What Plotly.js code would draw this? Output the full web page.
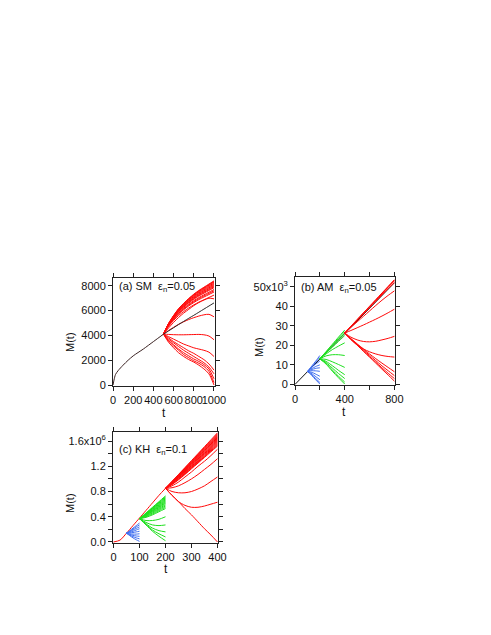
<!DOCTYPE html>
<html>
<head>
<meta charset="utf-8">
<script src="https://cdn.plot.ly/plotly-3.0.1.min.js"></script>
<style>
  html, body { margin: 0; padding: 0; background: #fff; }
  #chart { width: 491px; height: 635px; }
</style>
</head>
<body>
<div id="chart"></div>
<script>
// (a) SM, eps_n = 0.05
var smTrunkT = [0, 10, 25, 50, 100, 150, 200, 300, 400, 500];
var smTrunkM = [0, 400, 850, 1150, 1600, 2000, 2350, 2900, 3500, 4100];
var smBranchT = [500, 550, 600, 650, 700, 750, 800, 850, 900, 950, 1000];
var smRed = [
    [4100, 4960, 5605, 6164, 6594, 6981, 7325, 7626, 7884, 8142, 8400],
    [4100, 4950, 5588, 6140, 6565, 6948, 7288, 7585, 7840, 8095, 8350],
    [4100, 4940, 5570, 6116, 6536, 6914, 7250, 7544, 7796, 8048, 8300],
    [4100, 4925, 5544, 6080, 6493, 6864, 7194, 7483, 7730, 7978, 8225],
    [4100, 4910, 5518, 6044, 6449, 6814, 7138, 7421, 7664, 7907, 8150],
    [4100, 4895, 5491, 6008, 6406, 6763, 7081, 7360, 7598, 7837, 8075],
    [4100, 4880, 5465, 5972, 6362, 6713, 7025, 7298, 7532, 7766, 8000],
    [4100, 4865, 5439, 5936, 6319, 6663, 6969, 7237, 7466, 7696, 7925],
    [4100, 4850, 5413, 5900, 6275, 6613, 6913, 7175, 7400, 7625, 7850],
    [4100, 4820, 5360, 5828, 6188, 6512, 6800, 7052, 7268, 7484, 7700],
    [4100, 4800, 5325, 5780, 6130, 6445, 6725, 6970, 7180, 7390, 7600],
    [4100, 4780, 5290, 5732, 6072, 6378, 6650, 6888, 7092, 7296, 7500],
    [4100, 4730, 5203, 5612, 5927, 6211, 6463, 6683, 6872, 7061, 7250],
    [4100, 4600, 5050, 5450, 5800, 6100, 6400, 6650, 6850, 7000, 6950],
    [4100, 4400, 4650, 4900, 5100, 5280, 5430, 5560, 5660, 5700, 5500],
    [4100, 4080, 4060, 4050, 4050, 4060, 4070, 4080, 4050, 3950, 3650],
    [4100, 3900, 3700, 3500, 3300, 3150, 3000, 2900, 2800, 2650, 2300],
    [4100, 3800, 3500, 3250, 3000, 2750, 2550, 2300, 2050, 1700, 1200],
    [4100, 3700, 3400, 3100, 2800, 2550, 2300, 2050, 1800, 1450, 900],
    [4100, 3600, 3250, 2900, 2600, 2350, 2100, 1900, 1650, 1300, 500],
    [4100, 3550, 3150, 2800, 2450, 2200, 1950, 1750, 1500, 1100, 200],
    [4100, 3450, 3000, 2600, 2300, 2050, 1850, 1600, 1300, 900, 0]
];
var smBlack = [4100, 4360, 4620, 4880, 5130, 5380, 5620, 5870, 6120, 6370, 6620];

// (b) AM, eps_n = 0.05  (M in units of 10^3)
var amTrunkT = [0, 800];
var amTrunkM = [0, 52];
var amBlueT = [100, 125, 150, 175, 200];
var amBlue = [
    [6.6, 8.6, 10.6, 12.6, 14.8],
    [6.6, 8.4, 10.2, 12, 13.8],
    [6.6, 8.2, 9.6, 10.8, 12],
    [6.6, 7.8, 8.6, 9.4, 10],
    [6.6, 7.4, 7.9, 8.3, 8.5],
    [6.6, 7, 7, 6.9, 6.7],
    [6.6, 6.4, 5.8, 5, 4.2],
    [6.6, 6, 4.8, 3.6, 2.4],
    [6.6, 5.6, 4.0, 2.5, 1.0],
    [6.6, 5.3, 3.5, 1.8, 0.2]
];
var amGreenT = [200, 250, 300, 350, 400];
var amGreen = [
    [13.1, 16.8, 20.5, 24.2, 27.8],
    [13.1, 16.6, 20.1, 23.6, 27],
    [13.1, 16.4, 19.6, 22.9, 26.2],
    [13.1, 16.1, 19, 22, 25],
    [13.1, 15.6, 17.8, 19.6, 21.3],
    [13.1, 14.6, 15.2, 15.2, 14.8],
    [13.1, 12.8, 11.6, 10.2, 8.7],
    [13.1, 11.8, 9.6, 7.2, 5],
    [13.1, 11.2, 8.4, 5.6, 3],
    [13.1, 10.8, 7.4, 4.2, 1.2],
    [13.1, 10.4, 6.8, 3.4, 0.2]
];
var amRedT = [400, 450, 500, 550, 600, 650, 700, 750, 800];
var amRed = [
    [26.3, 29.8, 33.2, 36.6, 40, 43.4, 46.8, 50.2, 53.6],
    [26.3, 29.7, 33.1, 36.5, 39.8, 43.2, 46.6, 50, 53.3],
    [26.3, 29.6, 33, 36.3, 39.6, 43, 46.3, 49.7, 53],
    [26.3, 29.5, 32.8, 36, 39.3, 42.5, 45.8, 49, 52.2],
    [26.3, 29.2, 32, 34.8, 37.6, 40.4, 43.1, 45.6, 47.9],
    [26.3, 27.6, 29, 30.4, 31.9, 33.4, 35, 36.7, 38.5],
    [26.3, 24.2, 22.8, 22, 21.8, 22.1, 22.8, 23.6, 24.6],
    [26.3, 22.9, 20.2, 18.2, 16.7, 15.6, 14.8, 14.3, 14],
    [26.3, 23.5, 20.8, 18.2, 15.6, 13.2, 10.9, 8.7, 6.5],
    [26.3, 23.3, 20.5, 17.7, 14.9, 12.2, 9.5, 7, 4.5],
    [26.3, 23.2, 20.2, 17.2, 14.2, 11.4, 8.5, 5.7, 3],
    [26.3, 23.2, 20.1, 17, 14, 10.9, 7.8, 4.8, 1.7]
];

// (c) KH, eps_n = 0.1  (M in units of 10^6)
var khTrunkT = [0, 25, 50, 75, 100, 125, 150, 175, 200];
var khTrunkM = [0, 0.03, 0.14, 0.26, 0.38, 0.5, 0.62, 0.74, 0.85];
var khBlueT = [50, 62.5, 75, 87.5, 100];
var khBlue = [
    [0.14, 0.18, 0.22, 0.26, 0.30],
    [0.14, 0.17, 0.205, 0.24, 0.27],
    [0.14, 0.165, 0.19, 0.215, 0.24],
    [0.14, 0.155, 0.17, 0.19, 0.21],
    [0.14, 0.145, 0.15, 0.16, 0.17],
    [0.14, 0.13, 0.125, 0.125, 0.13],
    [0.14, 0.12, 0.105, 0.095, 0.09],
    [0.14, 0.11, 0.085, 0.065, 0.05],
    [0.14, 0.10, 0.065, 0.035, 0.01]
];
var khGreenT = [100, 125, 150, 175, 200];
var khGreen = [
    [0.37, 0.46, 0.55, 0.64, 0.73],
    [0.37, 0.455, 0.543, 0.63, 0.715],
    [0.37, 0.45, 0.535, 0.62, 0.70],
    [0.37, 0.445, 0.528, 0.608, 0.685],
    [0.37, 0.44, 0.52, 0.595, 0.67],
    [0.37, 0.438, 0.51, 0.583, 0.655],
    [0.37, 0.435, 0.50, 0.57, 0.64],
    [0.37, 0.43, 0.493, 0.558, 0.625],
    [0.37, 0.425, 0.485, 0.545, 0.61],
    [0.37, 0.418, 0.473, 0.53, 0.59],
    [0.37, 0.41, 0.46, 0.515, 0.57],
    [0.37, 0.40, 0.445, 0.498, 0.55],
    [0.37, 0.39, 0.43, 0.48, 0.53],
    [0.37, 0.34, 0.34, 0.36, 0.40],
    [0.37, 0.31, 0.27, 0.26, 0.27],
    [0.37, 0.29, 0.22, 0.18, 0.16],
    [0.37, 0.28, 0.19, 0.13, 0.08],
    [0.37, 0.27, 0.17, 0.09, 0.02]
];
var khRedT = [200, 225, 250, 275, 300, 325, 350, 375, 400];
var khRed = [
    [0.85, 0.96, 1.07, 1.18, 1.29, 1.40, 1.51, 1.62, 1.73],
    [0.85, 0.958, 1.065, 1.173, 1.28, 1.39, 1.498, 1.605, 1.715],
    [0.85, 0.955, 1.06, 1.165, 1.27, 1.38, 1.485, 1.59, 1.70],
    [0.85, 0.953, 1.055, 1.158, 1.263, 1.37, 1.473, 1.578, 1.685],
    [0.85, 0.95, 1.05, 1.15, 1.255, 1.36, 1.46, 1.565, 1.67],
    [0.85, 0.948, 1.045, 1.145, 1.248, 1.35, 1.45, 1.553, 1.655],
    [0.85, 0.945, 1.04, 1.14, 1.24, 1.34, 1.44, 1.54, 1.64],
    [0.85, 0.943, 1.035, 1.133, 1.23, 1.328, 1.428, 1.525, 1.625],
    [0.85, 0.94, 1.03, 1.125, 1.22, 1.315, 1.415, 1.51, 1.61],
    [0.85, 0.935, 1.025, 1.118, 1.21, 1.303, 1.403, 1.498, 1.595],
    [0.85, 0.93, 1.02, 1.11, 1.2, 1.29, 1.39, 1.485, 1.58],
    [0.85, 0.925, 1.01, 1.10, 1.19, 1.28, 1.375, 1.47, 1.565],
    [0.85, 0.92, 1.0, 1.09, 1.18, 1.27, 1.36, 1.455, 1.55],
    [0.85, 0.915, 0.993, 1.08, 1.17, 1.26, 1.35, 1.443, 1.535],
    [0.85, 0.91, 0.985, 1.07, 1.16, 1.25, 1.34, 1.43, 1.52],
    [0.85, 0.89, 0.95, 1.03, 1.11, 1.2, 1.28, 1.37, 1.47],
    [0.85, 0.86, 0.89, 0.94, 1.0, 1.07, 1.15, 1.23, 1.32],
    [0.85, 0.80, 0.78, 0.78, 0.8, 0.84, 0.89, 0.96, 1.03],
    [0.85, 0.74, 0.64, 0.58, 0.55, 0.55, 0.57, 0.6, 0.63],
    [0.85, 0.74, 0.64, 0.53, 0.43, 0.32, 0.21, 0.11, 0]
];

var RED = '#ff0a0a', GREEN = '#1ee01e', BLUE = '#3f6ef0', DARK = '#2b2b2b';

var data = [];
function addLines(ts, rows, color, xa, ya) {
    rows.forEach(function (ys) {
        data.push({
            x: ts, y: ys, xaxis: xa, yaxis: ya,
            mode: 'lines', type: 'scatter',
            line: {color: color, width: 1, shape: 'spline', smoothing: 0.8},
            hoverinfo: 'skip'
        });
    });
}

// (a)
addLines(smBranchT, smRed, RED, 'x', 'y');
addLines(smBranchT, [smBlack], DARK, 'x', 'y');
addLines(smTrunkT, [smTrunkM], '#3a2222', 'x', 'y');
// (b)
addLines(amTrunkT, [amTrunkM], '#111111', 'x2', 'y2');
addLines(amBlueT, amBlue, BLUE, 'x2', 'y2');
addLines(amGreenT, amGreen, GREEN, 'x2', 'y2');
addLines(amRedT, amRed, RED, 'x2', 'y2');
// (c)
addLines(khTrunkT, [khTrunkM], RED, 'x3', 'y3');
addLines(khBlueT, khBlue, BLUE, 'x3', 'y3');
addLines(khGreenT, khGreen, GREEN, 'x3', 'y3');
addLines(khRedT, khRed, RED, 'x3', 'y3');

var W = 491, H = 635;
function px(v) { return v / W; }
function py(v) { return 1 - v / H; }

var axisBase = {
    showline: true, linecolor: '#222', linewidth: 1,
    mirror: 'allticks', ticks: 'outside', ticklen: 4, tickcolor: '#222',
    showgrid: false, zeroline: false, tickangle: 0,
    tickfont: {size: 11, color: '#111'}
};
function ax(extra) { return Object.assign({}, axisBase, extra); }

var layout = {
    width: W, height: H,
    margin: {l: 0, r: 0, t: 0, b: 0},
    paper_bgcolor: '#fff', plot_bgcolor: '#fff',
    font: {family: 'Liberation Sans, Arial, sans-serif', color: '#111'},
    showlegend: false,
    xaxis: ax({domain: [px(113), px(215)], range: [0, 1010], anchor: 'y',
        tickmode: 'linear', tick0: 0, dtick: 200}),
    yaxis: ax({domain: [py(386), py(278)], range: [-80, 8630], anchor: 'x',
        tickmode: 'linear', tick0: 0, dtick: 2000}),
    xaxis2: ax({domain: [px(295), px(395)], range: [0, 805], anchor: 'y2',
        tickmode: 'linear', tick0: 0, dtick: 400,
        minor: {dtick: 200, ticks: 'outside', ticklen: 4, tickcolor: '#222'}}),
    yaxis2: ax({domain: [py(385), py(277)], range: [-0.3, 55], anchor: 'x2',
        tickvals: [0, 10, 20, 30, 40, 50],
        ticktext: ['0', '10', '20', '30', '40', '50x10<sup>3</sup>']}),
    xaxis3: ax({domain: [px(113), px(218)], range: [-2, 402], anchor: 'y3',
        tickmode: 'linear', tick0: 0, dtick: 100}),
    yaxis3: ax({domain: [py(543), py(432)], range: [-0.016, 1.743], anchor: 'x3',
        tickvals: [0, 0.4, 0.8, 1.2, 1.6],
        ticktext: ['0.0', '0.4', '0.8', '1.2', '1.6x10<sup>6</sup>'],
        minor: {dtick: 0.2, ticks: 'outside', ticklen: 4, tickcolor: '#222'}}),
    annotations: [
        {text: '(a) SM  ε<sub>n</sub>=0.05', x: px(117), y: py(287)},
        {text: '(b) AM  ε<sub>n</sub>=0.05', x: px(299), y: py(288)},
        {text: '(c) KH  ε<sub>n</sub>=0.1', x: px(117), y: py(450)},
        {text: 'M(t)', x: px(70), y: py(342), textangle: -90, xanchor: 'center'},
        {text: 'M(t)', x: px(259), y: py(347), textangle: -90, xanchor: 'center'},
        {text: 'M(t)', x: px(70), y: py(503), textangle: -90, xanchor: 'center'},
        {text: 't', x: px(164), y: py(413), xanchor: 'center', font: {size: 12}},
        {text: 't', x: px(344), y: py(412), xanchor: 'center', font: {size: 12}},
        {text: 't', x: px(166), y: py(569), xanchor: 'center', font: {size: 12}}
    ].map(function (a) {
        return Object.assign({xref: 'paper', yref: 'paper', showarrow: false,
            xanchor: 'left', yanchor: 'middle', font: {size: 11, color: '#111'}}, a);
    })
};

Plotly.newPlot('chart', data, layout, {staticPlot: true});
</script>
</body>
</html>
